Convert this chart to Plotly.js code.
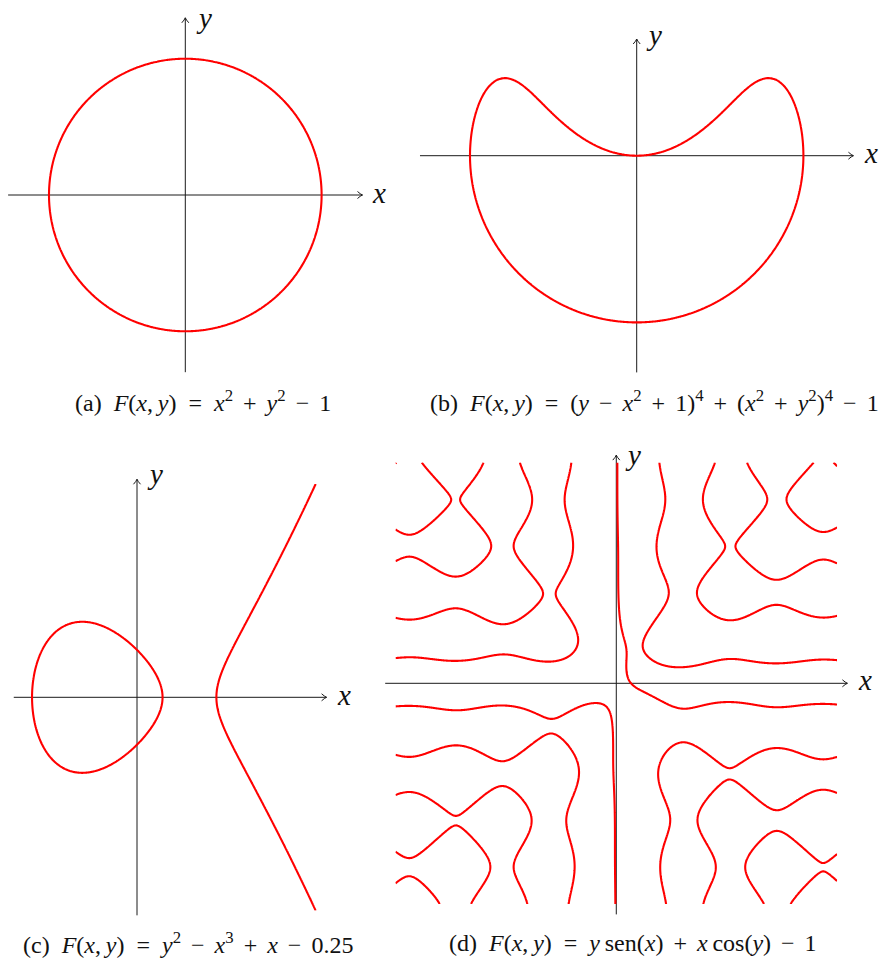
<!DOCTYPE html>
<html>
<head>
<meta charset="utf-8">
<script src="https://cdn.plot.ly/plotly-3.0.1.min.js"></script>
<style>
  html, body { margin: 0; padding: 0; background: #ffffff; }
  #plot { width: 884px; height: 959px; }
</style>
</head>
<body>
<div id="plot"></div>
<script>
// ---- Axis extents of each panel (data units) ----
const axisXA = [-1.3, 1.3],   axisYA = [-1.3, 1.3];
const axisXB = [-1.3, 1.3],   axisYB = [-1.3, 0.7];
const axisXC = [-1.3, 2.0],   axisYC = [-2.3, 2.3];
const axisXD = [-15.7, 15.7], axisYD = [-15.7, 15.5];

// ---- Window over which each implicit curve F(x,y) = 0 is sampled ----
const gridXA = [-1.2, 1.2],   gridYA = [-1.2, 1.2];
const gridXB = [-1.2, 1.2],   gridYB = [-1.2, 0.7];
const gridXC = [-1.3, 1.95],  gridYC = [-2.25, 2.25];
const gridXD = [-15, 15],     gridYD = [-15, 15];
const gridN  = [220, 300, 340, 560];

// ---- Captions (wider spacing around relations, medium around + and -) ----
const EQ = "&#8194;";          // en space
const OP = "&#8196;&#8202;";   // three-per-em space plus a hair space
const captions = [
  "(a)" + EQ + "<i>F</i>(<i>x</i>,&#8201;<i>y</i>)" + EQ + "=" + EQ + "<i>x</i><sup>2</sup>" + OP + "+" + OP +
    "<i>y</i><sup>2</sup>" + OP + "−" + OP + "1",
  "(b)" + EQ + "<i>F</i>(<i>x</i>,&#8201;<i>y</i>)" + EQ + "=" + EQ + "(<i>y</i>" + OP + "−" + OP + "<i>x</i><sup>2</sup>" +
    OP + "+" + OP + "1)<sup>4</sup>" + OP + "+" + OP + "(<i>x</i><sup>2</sup>" + OP + "+" + OP + "<i>y</i><sup>2</sup>)<sup>4</sup>" +
    OP + "−" + OP + "1",
  "(c)" + EQ + "<i>F</i>(<i>x</i>,&#8201;<i>y</i>)" + EQ + "=" + EQ + "<i>y</i><sup>2</sup>" + OP + "−" + OP +
    "<i>x</i><sup>3</sup>" + OP + "+" + OP + "<i>x</i>" + OP + "−" + OP + "0.25",
  "(d)" + EQ + "<i>F</i>(<i>x</i>,&#8201;<i>y</i>)" + EQ + "=" + EQ + "<i>y</i>&#8201;sen(<i>x</i>)" + OP + "+" + OP +
    "<i>x</i>&#8201;cos(<i>y</i>)" + OP + "−" + OP + "1"
];

// ---- The four functions whose zero sets are drawn ----
const Fa = (x, y) => x * x + y * y - 1;
const Fb = (x, y) => Math.pow(y - x * x + 1, 4) + Math.pow(x * x + y * y, 4) - 1;
const Fc = (x, y) => y * y - x * x * x + x - 0.25;
const Fd = (x, y) => y * Math.sin(x) + x * Math.cos(y) - 1;

// ---- Page geometry: origin of each panel on the page and pixels per unit ----
const W = 884, H = 959;
const panels = [
  { cx: 185.3, cy: 195.0, s: 136.3, ax: axisXA, ay: axisYA, gx: gridXA, gy: gridYA, f: Fa,
    xlab: [370, 193], ylab: [194, 0, "top"], cap: [203, 401] },
  { cx: 636.7, cy: 155.7, s: 166.7, ax: axisXB, ay: axisYB, gx: gridXB, gy: gridYB, f: Fb,
    xlab: [862, 153], ylab: [644, 35, "middle"], cap: [654, 401] },
  { cx: 137.0, cy: 697.3, s: 94.8,  ax: axisXC, ay: axisYC, gx: gridXC, gy: gridYC, f: Fc,
    xlab: [335, 695], ylab: [145, 474, "middle"], cap: [188, 943] },
  { cx: 616.3, cy: 683.3, s: 14.72, ax: axisXD, ay: axisYD, gx: gridXD, gy: gridYD, f: Fd,
    xlab: [856, 680], ylab: [623, 455, "middle"], cap: [633, 943] }
];

function sample(f, gx, gy, n) {
  const xs = [], ys = [], z = [];
  for (let i = 0; i <= n; i++) xs.push(gx[0] + (gx[1] - gx[0]) * i / n);
  for (let j = 0; j <= n; j++) ys.push(gy[0] + (gy[1] - gy[0]) * j / n);
  for (let j = 0; j <= n; j++) {
    const row = [];
    for (let i = 0; i <= n; i++) row.push(f(xs[i], ys[j]));
    z.push(row);
  }
  return { xs, ys, z };
}

const traces = [];
const layout = {
  width: W, height: H,
  margin: { l: 0, r: 0, t: 0, b: 0 },
  paper_bgcolor: "#ffffff", plot_bgcolor: "rgba(0,0,0,0)",
  showlegend: false,
  shapes: [], annotations: []
};

const axisColor = "#1a1a1a";
const pad = 6;
const serif = "Liberation Serif, DejaVu Serif, serif";

panels.forEach((p, k) => {
  const idx = k === 0 ? "" : String(k + 1);
  const xa = "x" + idx, ya = "y" + idx;

  // plotting range = axis extents plus a few pixels for the arrow tips
  const xr = [p.ax[0] - pad / p.s, p.ax[1] + pad / p.s];
  const yr = [p.ay[0] - pad / p.s, p.ay[1] + pad / p.s];
  const xd = [(p.cx + xr[0] * p.s) / W, (p.cx + xr[1] * p.s) / W];
  const yd = [1 - (p.cy - yr[0] * p.s) / H, 1 - (p.cy - yr[1] * p.s) / H];

  const axCommon = { visible: false, showgrid: false, zeroline: false, fixedrange: true };
  layout["xaxis" + idx] = Object.assign({}, axCommon, { range: xr, domain: xd, anchor: ya });
  layout["yaxis" + idx] = Object.assign({}, axCommon, { range: yr, domain: yd, anchor: xa });

  const g = sample(p.f, p.gx, p.gy, gridN[k]);
  traces.push({
    type: "contour", x: g.xs, y: g.ys, z: g.z, xaxis: xa, yaxis: ya,
    contours: { type: "constraint", operation: "=", value: 0 },
    line: { color: "#ff0000", width: 2.1, smoothing: 0.6 },
    showscale: false, hoverinfo: "skip"
  });

  // coordinate axes with open arrow tips
  layout.shapes.push(
    { type: "line", xref: xa, yref: ya, x0: p.ax[0], x1: p.ax[1], y0: 0, y1: 0,
      line: { color: axisColor, width: 1 }, layer: "below" },
    { type: "line", xref: xa, yref: ya, x0: 0, x1: 0, y0: p.ay[0], y1: p.ay[1],
      line: { color: axisColor, width: 1 }, layer: "below" },
    { type: "path", xref: xa, yref: ya, xsizemode: "pixel", ysizemode: "pixel",
      xanchor: p.ax[1], yanchor: 0, path: "M-5,3.5 Q-2,0.8 0,0 Q-2,-0.8 -5,-3.5",
      line: { color: axisColor, width: 1 }, layer: "below" },
    { type: "path", xref: xa, yref: ya, xsizemode: "pixel", ysizemode: "pixel",
      xanchor: 0, yanchor: p.ay[1], path: "M-3.5,-5 Q-0.8,-2 0,0 Q0.8,-2 3.5,-5",
      line: { color: axisColor, width: 1 }, layer: "below" }
  );

  const labFont = { family: serif, size: 29, color: "#111111" };
  layout.annotations.push(
    { text: "<i>x</i>", xref: "paper", yref: "paper", x: p.xlab[0] / W, y: 1 - p.xlab[1] / H,
      xanchor: "left", yanchor: "middle", showarrow: false, font: labFont },
    { text: "<i>y</i>", xref: "paper", yref: "paper", x: p.ylab[0] / W, y: 1 - p.ylab[1] / H,
      xanchor: "left", yanchor: p.ylab[2], showarrow: false, font: labFont },
    { text: captions[k], xref: "paper", yref: "paper", x: p.cap[0] / W, y: 1 - p.cap[1] / H,
      xanchor: "center", yanchor: "middle", showarrow: false,
      font: { family: serif, size: 24, color: "#111111" } }
  );
});

Plotly.newPlot("plot", traces, layout, { staticPlot: true, displayModeBar: false });
</script>
</body>
</html>
